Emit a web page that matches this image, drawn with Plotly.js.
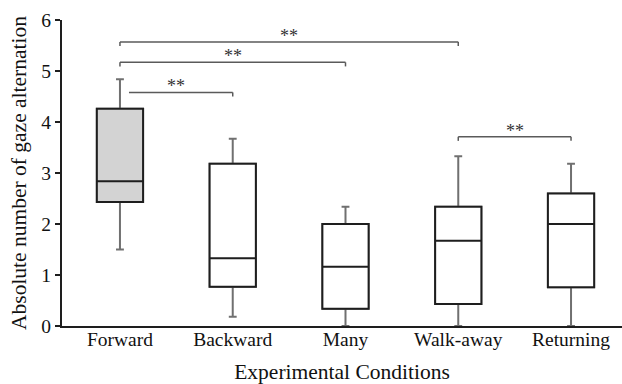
<!DOCTYPE html>
<html>
<head>
<meta charset="utf-8">
<script src="https://cdn.plot.ly/plotly-3.0.1.min.js"></script>
<style>html,body{margin:0;padding:0;background:#fff}#chart{width:622px;height:384px}</style>
</head>
<body>
<div id="chart"></div>
<script>
// ---- data ----
const categories   = ['Forward', 'Backward', 'Many', 'Walk-away', 'Returning'];
const lowerWhisker = [1.50, 0.18, 0.00, 0.00, 0.00];
const q1           = [2.43, 0.77, 0.34, 0.43, 0.76];
const median       = [2.84, 1.33, 1.16, 1.67, 2.00];
const q3           = [4.26, 3.18, 2.00, 2.34, 2.60];
const upperWhisker = [4.84, 3.67, 2.34, 3.33, 3.18];
const yTicks       = [0, 1, 2, 3, 4, 5, 6];

// significance comparisons
const compFrom  = ['Forward', 'Forward', 'Forward', 'Walk-away'];
const compTo    = ['Walk-away', 'Many', 'Backward', 'Returning'];
const compLabel = ['**', '**', '**', '**'];

// ---- styling / placement ----
const bracketY     = [5.57, 5.17, 4.58, 3.71];
const bracketInset = [0, 0, 0.08, 0];
const bracketLeftTick = [true, true, false, true];
const tickDrop = 0.08;
const boxWidth = 0.41;
const serif = 'Liberation Serif, Times New Roman, serif';

function pick(arr, idx) { return idx.map(i => arr[i]); }
const allIdx = categories.map((_, i) => i);
const hiIdx = [0];
const restIdx = allIdx.filter(i => i !== 0);

function boxTrace(idx, lineColor, fill, withWhiskers) {
  return {
    type: 'box',
    x: pick(categories, idx),
    q1: pick(q1, idx),
    median: pick(median, idx),
    q3: pick(q3, idx),
    lowerfence: withWhiskers ? pick(lowerWhisker, idx) : pick(q1, idx),
    upperfence: withWhiskers ? pick(upperWhisker, idx) : pick(q3, idx),
    width: boxWidth,
    whiskerwidth: 0.17,
    line: { color: lineColor, width: 2 },
    fillcolor: fill,
    boxpoints: false,
    hoverinfo: 'skip',
    showlegend: false
  };
}

const traces = [
  boxTrace(allIdx, '#707070', 'rgba(255,255,255,0)', true),
  boxTrace(hiIdx, '#1e1e1e', '#d3d3d3', false),
  boxTrace(restIdx, '#1e1e1e', '#ffffff', false)
];

const shapes = [];
const annotations = [];
compFrom.forEach((a, k) => {
  const i0 = categories.indexOf(a) + bracketInset[k];
  const i1 = categories.indexOf(compTo[k]);
  const y = bracketY[k];
  const ln = { color: '#5a5a5a', width: 1.5 };
  shapes.push({ type: 'line', xref: 'x', yref: 'y', x0: i0, x1: i1, y0: y, y1: y, line: ln });
  shapes.push({ type: 'line', xref: 'x', yref: 'y', x0: i1, x1: i1, y0: y, y1: y - tickDrop, line: ln });
  if (bracketLeftTick[k]) {
    shapes.push({ type: 'line', xref: 'x', yref: 'y', x0: i0, x1: i0, y0: y, y1: y - tickDrop, line: ln });
  }
  annotations.push({
    xref: 'x', yref: 'y',
    x: (categories.indexOf(a) + i1) / 2, y: y,
    text: compLabel[k], showarrow: false,
    yanchor: 'bottom', yshift: -6,
    font: { family: serif, size: 18, color: '#333' }
  });
});

const layout = {
  width: 622, height: 384,
  margin: { l: 62, r: 0, t: 20, b: 58, pad: 0 },
  paper_bgcolor: '#fff', plot_bgcolor: '#fff',
  boxmode: 'overlay',
  showlegend: false,
  xaxis: {
    type: 'category',
    categoryorder: 'array', categoryarray: categories,
    range: [-0.514, 4.452],
    showgrid: false, zeroline: false,
    showline: true, linecolor: '#1e1e1e', linewidth: 2,
    ticks: '', ticklen: 0,
    ticklabelstandoff: -5,
    tickfont: { family: serif, size: 19.5, color: '#111' },
    title: { text: 'Experimental Conditions', font: { family: serif, size: 21.5, color: '#111' }, standoff: 18 }
  },
  yaxis: {
    range: [0, 6],
    tickvals: yTicks, ticktext: yTicks.map(String),
    showgrid: false, zeroline: false,
    showline: true, linecolor: '#1e1e1e', linewidth: 2,
    ticks: 'outside', ticklen: 5, tickwidth: 1.5, tickcolor: '#1e1e1e',
    tickfont: { family: serif, size: 19.5, color: '#111' },
    title: { text: 'Absolute number of gaze alternation', font: { family: serif, size: 21.5, color: '#111' }, standoff: 9 }
  },
  shapes: shapes,
  annotations: annotations
};

Plotly.newPlot('chart', traces, layout, { displayModeBar: false, staticPlot: true });
</script>
</body>
</html>
